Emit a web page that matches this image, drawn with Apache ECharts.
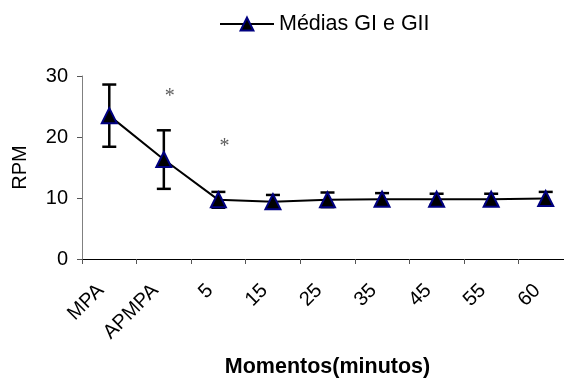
<!DOCTYPE html>
<html>
<head>
<meta charset="utf-8">
<script src="https://cdn.jsdelivr.net/npm/echarts@6/dist/echarts.min.js"></script>
<style>
  html, body { margin: 0; padding: 0; background: #fff; }
  #chart { width: 564px; height: 380px; }
</style>
</head>
<body>
<div id="chart"></div>
<script>
// data
let categories = ["MPA", "APMPA", "5", "15", "25", "35", "45", "55", "60"];
let means = [23.5, 16.3, 9.7, 9.4, 9.7, 9.8, 9.8, 9.8, 9.9];
let errs = [5.1, 4.8, 1.3, 1.1, 1.2, 1.0, 0.9, 0.9, 1.1];
let starPoints = [[1, 27.2], [2, 19.0]];
let yTicks = [0, 10, 20, 30];

const font = "Arial, 'Liberation Sans', Helvetica, sans-serif";

let errData = means.map((m, i) => [i, m - errs[i], m + errs[i]]);

let chart = echarts.init(document.getElementById("chart"));

let opt = {
    animation: false,
    textStyle: { fontFamily: font },
    legend: {
        left: 214,
        top: 8,
        itemWidth: 54,
        itemHeight: 16,
        itemGap: 6,
        textStyle: { fontSize: 21.5, color: "#000", fontFamily: font },
        data: ["Médias GI e GII"]
    },
    // plot runs past the right edge, as in the picture
    grid: { left: 82, right: -9, top: 76, bottom: 121, containLabel: false, outerBoundsMode: "none" },
    xAxis: {
        type: "category",
        data: categories,
        boundaryGap: true,
        axisLine: { lineStyle: { color: "#000", width: 1 } },
        axisTick: { show: true, inside: false, length: 5, lineStyle: { color: "#555" } },
        axisLabel: { rotate: 45, fontSize: 20, color: "#000", margin: 20, padding: [0, 12, 0, 0], interval: 0 },
        name: "Momentos(minutos)",
        nameLocation: "middle",
        nameGap: 97,
        nameTextStyle: { fontSize: 21.5, fontWeight: "bold", color: "#000" }
    },
    yAxis: {
        type: "value",
        min: yTicks[0],
        max: yTicks[yTicks.length - 1],
        interval: 10,
        splitLine: { show: false },
        axisLine: { show: true, lineStyle: { color: "#808080", width: 1 } },
        axisTick: { show: true, inside: false, length: 5, lineStyle: { color: "#555" } },
        axisLabel: { fontSize: 20, color: "#000", margin: 14 },
        name: "RPM",
        nameLocation: "middle",
        nameGap: 52,
        nameRotate: 90,
        nameTextStyle: { fontSize: 20, color: "#000" }
    },
    series: [
        {
            type: "custom",
            name: "err",
            z: 1,
            data: errData,
            renderItem: function (params, api) {
                let x = api.coord([api.value(0), 0])[0];
                let lo = api.coord([api.value(0), api.value(1)])[1];
                let hi = api.coord([api.value(0), api.value(2)])[1];
                let w = 7;
                let st = { stroke: "#000", lineWidth: 2.5 };
                return {
                    type: "group",
                    children: [
                        { type: "line", shape: { x1: x, y1: lo, x2: x, y2: hi }, style: st },
                        { type: "line", shape: { x1: x - w, y1: hi, x2: x + w, y2: hi }, style: st },
                        { type: "line", shape: { x1: x - w, y1: lo, x2: x + w, y2: lo }, style: st }
                    ]
                };
            }
        },
        {
            type: "line",
            name: "Médias GI e GII",
            z: 3,
            data: means,
            symbol: "triangle",
            symbolSize: 15,
            lineStyle: { color: "#000", width: 2 },
            itemStyle: { color: "#000", borderColor: "#000080", borderWidth: 2 }
        },
        {
            type: "scatter",
            name: "star",
            z: 4,
            data: starPoints,
            symbolSize: 0,
            label: {
                show: true,
                formatter: "*",
                position: "inside",
                offset: [6, 4],
                fontSize: 20,
                color: "#333",
                fontFamily: "'Times New Roman', 'Liberation Serif', serif"
            }
        }
    ]
};

chart.setOption(opt);
</script>
</body>
</html>
